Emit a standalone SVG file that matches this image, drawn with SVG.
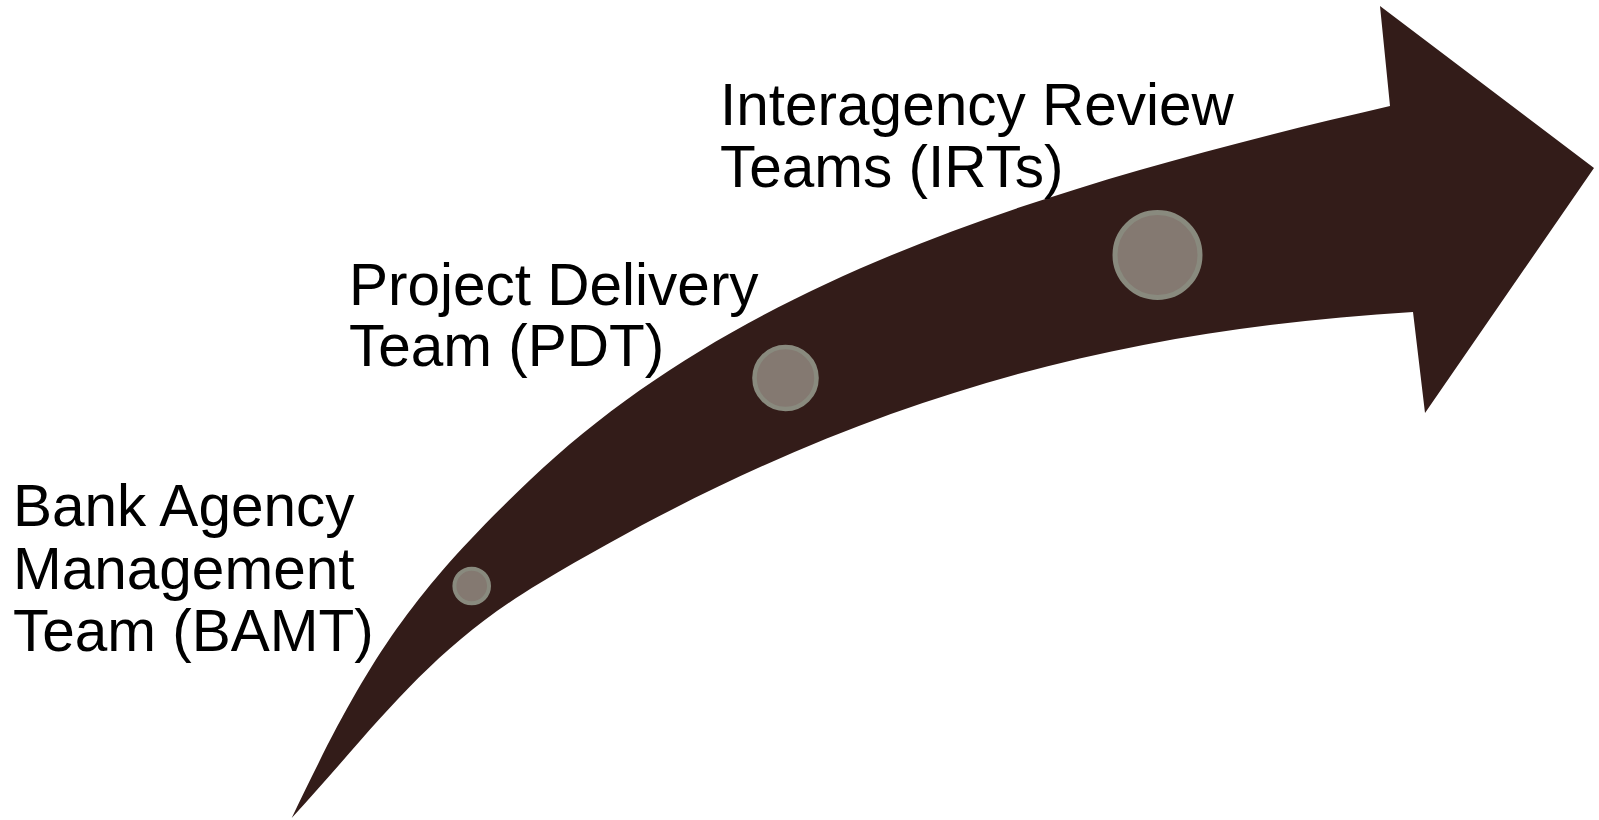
<svg xmlns="http://www.w3.org/2000/svg" width="1599" height="820" viewBox="0 0 1599 820">
<style>
.lbl{font-family:"Liberation Sans",Arial,sans-serif;font-size:58.5px;fill:#000}
.dot{fill:#847971;stroke:#898A7E}
</style>
<rect width="1599" height="820" fill="#fff"/>
<g id="connectors">
<path id="arrow" fill="#331C19" d="M291.7,818 C365,664.7 406.8,597.1 530,480 C733,287.1 1020,191.5 1390,106 L1380,6 L1594,168 L1425,413 L1413,312 C1114,330 848.5,398 540,583 C428.6,649.8 379.6,722.2 291.7,818 Z"/>
</g>
<g id="bamt">
<circle class="dot" cx="471.7" cy="586" r="17.3" stroke-width="4"/>
<text class="lbl" x="13" y="526">Bank Agency</text>
<text class="lbl" x="13" y="589">Management</text>
<text class="lbl" x="13" y="651">Team (BAMT)</text>
</g>
<g id="pdt">
<circle class="dot" cx="785.5" cy="378" r="31" stroke-width="4.6"/>
<text class="lbl" x="349" y="305">Project Delivery</text>
<text class="lbl" x="349" y="366">Team (PDT)</text>
</g>
<g id="irts">
<circle class="dot" cx="1157.5" cy="255" r="42.5" stroke-width="5"/>
<text class="lbl" x="720" y="125">Interagency Review</text>
<text class="lbl" x="720" y="187">Teams (IRTs)</text>
</g>
</svg>
